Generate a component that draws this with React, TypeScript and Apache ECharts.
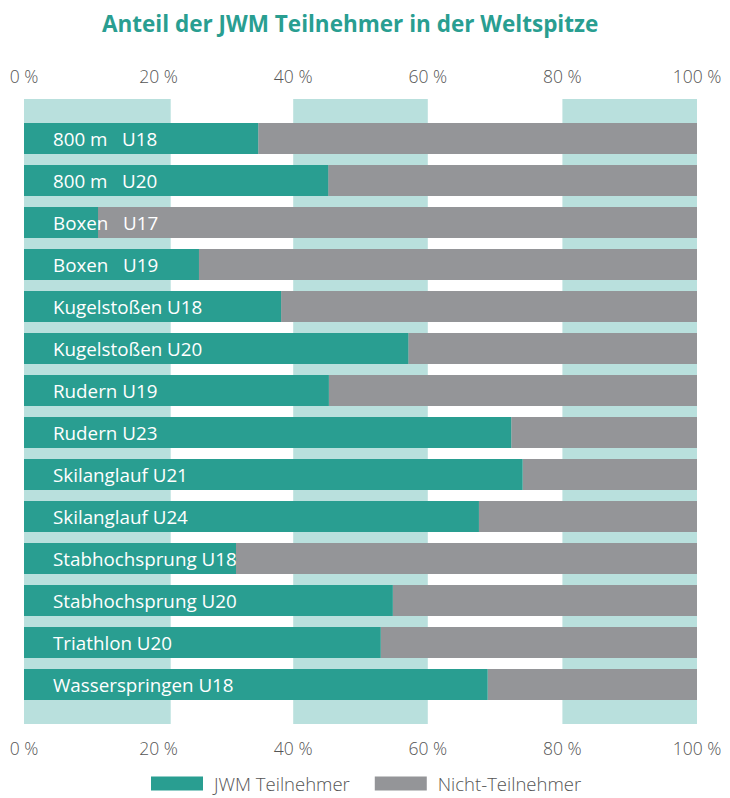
import React, { useEffect, useRef } from "react";
import * as echarts from "echarts";

const categories = [
  "800 m   U18",
  "800 m   U20",
  "Boxen   U17",
  "Boxen   U19",
  "Kugelstoßen U18",
  "Kugelstoßen U20",
  "Rudern U19",
  "Rudern U23",
  "Skilanglauf U21",
  "Skilanglauf U24",
  "Stabhochsprung U18",
  "Stabhochsprung U20",
  "Triathlon U20",
  "Wasserspringen U18",
];
const participants = [34.8, 45.2, 11.0, 26.0, 38.2, 57.1, 45.3, 72.4, 74.1, 67.6, 31.5, 54.8, 53.0, 68.9];
const nonParticipants = [65.2, 54.8, 89.0, 74.0, 61.8, 42.9, 54.7, 27.6, 25.9, 32.4, 68.5, 45.2, 47.0, 31.1];
const bandStops = [0, 21.8, 40, 60, 80, 100];
const tickLabels = ["0 %", "20 %", "40 %", "60 %", "80 %", "100 %"];
const seriesNames = ["JWM Teilnehmer", "Nicht-Teilnehmer"];
const titleText = "Anteil der JWM Teilnehmer in der Weltspitze";

const TEAL = "#299E91";
const GRAY = "#949598";
const BAND = "#B9E0DD";
const FONT = "'Open Sans', 'Noto Sans', sans-serif";

export default function App() {
  const ref = useRef<HTMLDivElement>(null);
  useEffect(() => {
    if (!ref.current) return;
    const chart = echarts.init(ref.current, null, { renderer: "svg" });
    const bandSeries = bandStops.slice(1).map((stop, i) => ({
      type: "bar",
      name: "band" + i,
      xAxisIndex: 0,
      yAxisIndex: 0,
      stack: "band",
      barWidth: "100%",
      silent: true,
      z: 0,
      data: [stop - bandStops[i]],
      itemStyle: { color: i % 2 === 0 ? BAND : "rgba(0,0,0,0)" },
    }));
    const axisLabelFmt = (v: number) => tickLabels[Math.round(v / 20)];
    const commonX = {
      type: "value",
      gridIndex: 0,
      min: 0,
      max: 100,
      interval: 20,
      axisLine: { show: false },
      axisTick: { show: false },
      splitLine: { show: false },
      axisLabel: {
        formatter: axisLabelFmt,
        color: "#555",
        fontFamily: FONT,
        fontSize: 17.5,
        fontWeight: 300,
      },
    };
    chart.setOption({
      animation: false,
      title: {
        text: titleText,
        left: 97,
        top: 7,
        textStyle: { color: TEAL, fontFamily: FONT, fontWeight: "bold", fontSize: 22.5 },
      },
      legend: {
        data: seriesNames,
        bottom: 0,
        left: 146,
        icon: "rect",
        itemWidth: 52,
        itemHeight: 14,
        itemGap: 25,
        textStyle: { color: "#555", fontFamily: FONT, fontSize: 18.5, fontWeight: 300, padding: [0, 0, 0, 6] },
      },
      grid: [
        { left: 24, right: 33, top: 99, bottom: 74 },
        { left: 24, right: 33, top: 117.5, height: 588 },
      ],
      xAxis: [
        { ...commonX, position: "top", axisLabel: { ...commonX.axisLabel, margin: 14 } },
        { ...commonX, position: "bottom", axisLabel: { ...commonX.axisLabel, margin: 15 } },
        { type: "value", gridIndex: 1, min: 0, max: 100, show: false },
      ],
      yAxis: [
        { type: "category", gridIndex: 0, data: [""], show: false },
        { type: "category", gridIndex: 1, data: categories, inverse: true, show: false },
      ],
      series: [
        ...bandSeries,
        {
          type: "bar",
          name: seriesNames[0],
          xAxisIndex: 2,
          yAxisIndex: 1,
          stack: "a",
          barWidth: 31,
          z: 5,
          data: participants,
          itemStyle: { color: TEAL },
          label: {
            show: true,
            position: "insideLeft",
            distance: 29,
            formatter: (p: any) => categories[p.dataIndex],
            color: "#fff",
            fontFamily: FONT,
            fontSize: 18.8,
          },
        },
        {
          type: "bar",
          name: seriesNames[1],
          xAxisIndex: 2,
          yAxisIndex: 1,
          stack: "a",
          barWidth: 31,
          data: nonParticipants,
          itemStyle: { color: GRAY },
          z: 4,
        },
      ],
    });
    return () => chart.dispose();
  }, []);
  return (
    <div
      ref={ref}
      style={{ position: "fixed", left: 0, top: 0, width: 730, height: 798, background: "#fff" }}
    />
  );
}
